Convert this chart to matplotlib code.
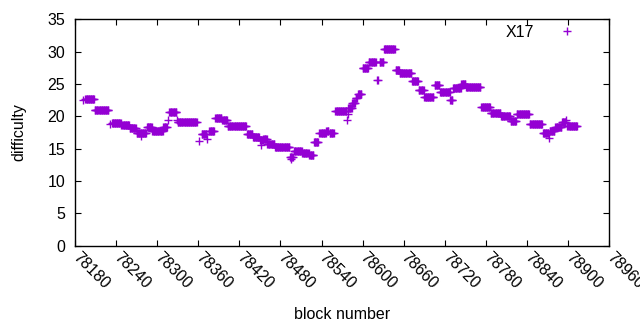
import matplotlib
matplotlib.use('Agg')
import matplotlib.pyplot as plt
import numpy as np

plt.rcParams['font.family'] = ['Liberation Sans', 'DejaVu Sans']

# difficulty runs: first block, last block, value
run_first = [78192, 78195, 78209, 78231, 78234, 78248, 78260, 78270, 78277, 78285,
             78293, 78309, 78316, 78318, 78329, 78330, 78361, 78365, 78373, 78376,
             78385, 78395, 78403, 78431, 78440, 78450, 78452, 78455, 78461, 78472,
             78494, 78496, 78500, 78512, 78522, 78529, 78537, 78547, 78552, 78560,
             78577, 78578, 78579, 78585, 78590, 78593, 78600, 78609, 78621, 78625,
             78631, 78648, 78654, 78672, 78682, 78690, 78705, 78713, 78728, 78732,
             78744, 78751, 78773, 78787, 78802, 78816, 78825, 78844, 78863, 78872,
             78873, 78881, 78891, 78897, 78899]
run_last = [78192, 78208, 78229, 78231, 78247, 78259, 78269, 78284, 78277, 78292,
            78308, 78314, 78316, 78328, 78329, 78358, 78361, 78372, 78373, 78383,
            78394, 78402, 78430, 78439, 78449, 78454, 78452, 78460, 78471, 78493,
            78498, 78496, 78511, 78521, 78528, 78535, 78546, 78550, 78558, 78576,
            78577, 78578, 78584, 78589, 78592, 78598, 78608, 78619, 78622, 78630,
            78647, 78653, 78671, 78681, 78689, 78703, 78712, 78727, 78731, 78743,
            78750, 78772, 78786, 78801, 78815, 78824, 78843, 78862, 78871, 78872,
            78880, 78890, 78896, 78897, 78913]
run_value = [22.5, 22.75, 21.05, 18.75, 19.0, 18.7, 18.25, 17.35, 16.9, 18.4,
             17.8, 18.3, 19.4, 20.65, 19.5, 19.05, 16.2, 17.25, 16.5, 17.8,
             19.8, 19.4, 18.55, 17.2, 16.8, 16.3, 15.55, 16.5, 15.7, 15.2,
             13.7, 13.4, 14.7, 14.35, 14.0, 16.1, 17.35, 17.75, 17.4, 20.9,
             19.5, 20.35, 21.3, 22.0, 22.8, 23.45, 27.55, 28.35, 25.7, 28.35,
             30.5, 27.1, 26.65, 25.5, 24.05, 23.0, 24.8, 23.8, 22.6, 24.4,
             24.95, 24.5, 21.4, 20.45, 20.1, 19.25, 20.3, 18.75, 17.35, 16.7,
             17.8, 18.35, 19.15, 19.5, 18.55]

x_ticks = list(range(78180, 78961, 60))
y_ticks = list(range(0, 36, 5))

blocks = np.concatenate([np.arange(a, b + 1) for a, b in zip(run_first, run_last)])
difficulty = np.concatenate([np.full(b - a + 1, v)
                             for a, b, v in zip(run_first, run_last, run_value)])

fig = plt.figure(figsize=(6.4, 3.3), dpi=100)
ax = fig.add_axes([0.117, 0.256, 0.835, 0.685])

ax.plot(blocks, difficulty, linestyle='none', marker='+', markersize=5.2,
        markeredgewidth=1.0, color='#9400d3', label='X17')

ax.set_xlim(78180, 78960)
ax.set_ylim(0, 35)
ax.set_xticks(x_ticks)
ax.set_yticks(y_ticks)
ax.set_xticklabels([str(t) for t in x_ticks], rotation=-45, ha='left',
                   va='center', rotation_mode='anchor')
ax.tick_params(direction='in', top=True, right=True, length=4, width=0.8,
               labelsize=11.5, colors='black', pad=7)
for s in ax.spines.values():
    s.set_linewidth(1.0)

ax.set_xlabel('block number', fontsize=11.5, labelpad=11)
ax.set_ylabel('difficulty', fontsize=11.5, labelpad=15)

ax.legend(loc='upper right', frameon=False, markerfirst=False, fontsize=11.5,
          handlelength=1.0, handletextpad=1.6, borderaxespad=0.3,
          bbox_to_anchor=(0.957, 1.026))

fig.savefig('out.png', dpi=100)
